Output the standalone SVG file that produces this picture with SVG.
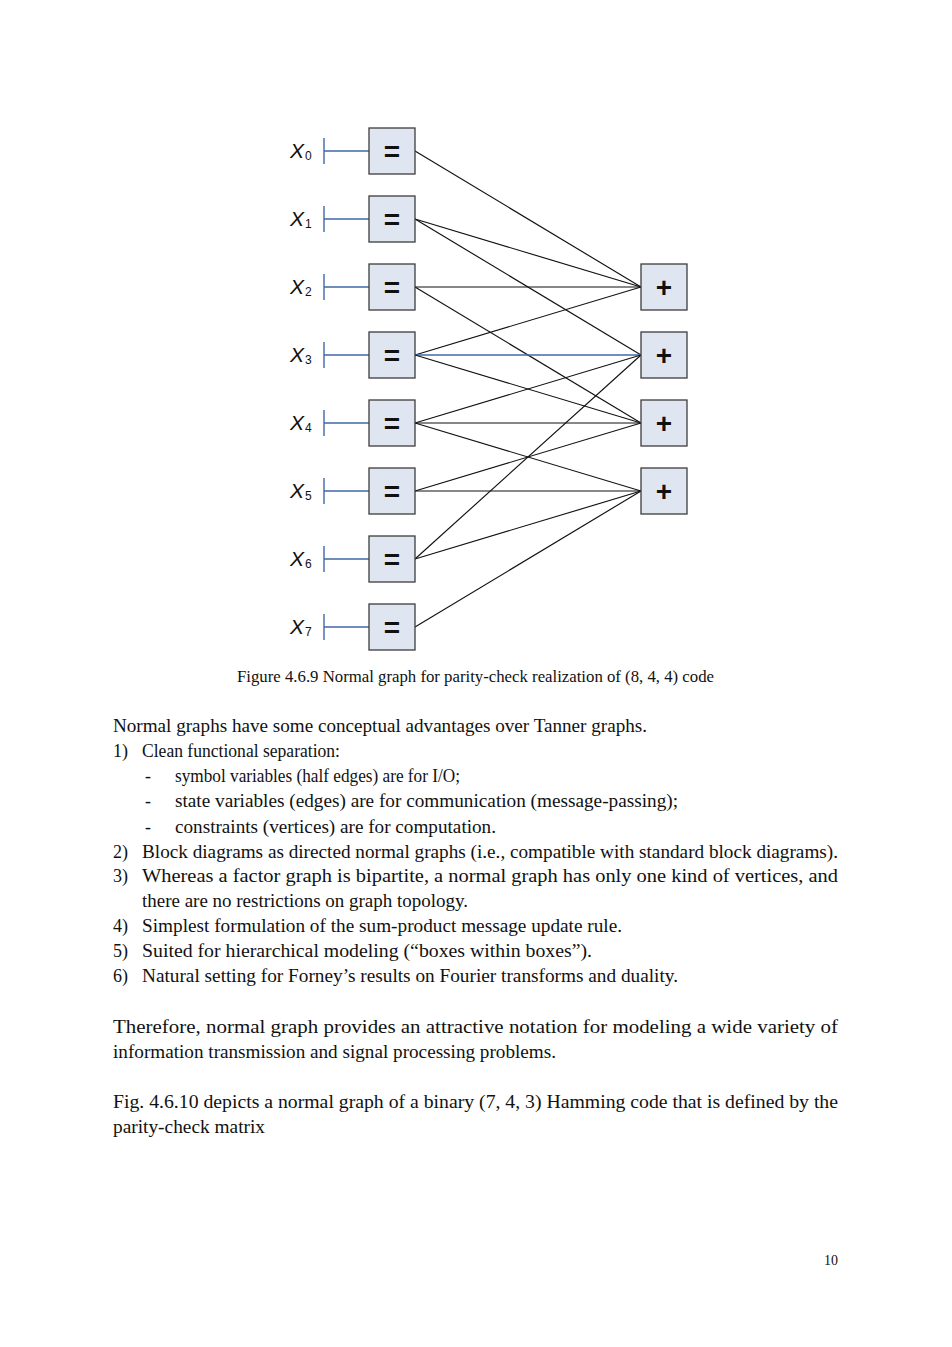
<svg xmlns="http://www.w3.org/2000/svg" width="952" height="1347" viewBox="0 0 952 1347">
<style>
.bx{fill:#dfe5f1;stroke:#3c3c3c;stroke-width:1.3}
.sym{font-family:"Liberation Sans",Arial,sans-serif;font-weight:bold;font-size:28px;text-anchor:middle;fill:#111}
.pl{font-size:28px}
.lab{font-family:"Liberation Sans",Arial,sans-serif;font-style:italic;font-size:21px;fill:#111}
.sub{font-family:"Liberation Sans",Arial,sans-serif;font-size:12px;fill:#111}
.half{stroke:#3f6aa8;stroke-width:1.4;fill:none}
.e{stroke:#111;stroke-width:1.15;fill:none}
.eb{stroke:#3f6aa8;stroke-width:1.3;fill:none}
.t{font-family:"Liberation Serif","Times New Roman",serif;font-size:18px;fill:#111}
.cap{font-family:"Liberation Serif","Times New Roman",serif;font-size:16px;fill:#111}
</style>
<rect width="952" height="1347" fill="#fff"/>
<g id="connectors">
<line class="e" x1="415" y1="151" x2="641" y2="287"/>
<line class="e" x1="415" y1="219" x2="641" y2="287"/>
<line class="e" x1="415" y1="219" x2="641" y2="355"/>
<line class="e" x1="415" y1="287" x2="641" y2="287"/>
<line class="e" x1="415" y1="287" x2="641" y2="423"/>
<line class="e" x1="415" y1="355" x2="641" y2="287"/>
<line class="eb" x1="415" y1="355" x2="641" y2="355"/>
<line class="e" x1="415" y1="355" x2="641" y2="423"/>
<line class="e" x1="415" y1="423" x2="641" y2="355"/>
<line class="e" x1="415" y1="423" x2="641" y2="423"/>
<line class="e" x1="415" y1="423" x2="641" y2="491"/>
<line class="e" x1="415" y1="491" x2="641" y2="423"/>
<line class="e" x1="415" y1="491" x2="641" y2="491"/>
<line class="e" x1="415" y1="559" x2="641" y2="355"/>
<line class="e" x1="415" y1="559" x2="641" y2="491"/>
<line class="e" x1="415" y1="627" x2="641" y2="491"/>
</g>
<g id="x0"><text class="lab" x="290" y="158">X</text><text class="sub" x="305" y="160">0</text><path class="half" d="M324 138V164M324 151H369"/><rect class="bx" x="369" y="128" width="46" height="46"/><text class="sym" x="392" y="161">=</text></g>
<g id="x1"><text class="lab" x="290" y="226">X</text><text class="sub" x="305" y="228">1</text><path class="half" d="M324 206V232M324 219H369"/><rect class="bx" x="369" y="196" width="46" height="46"/><text class="sym" x="392" y="229">=</text></g>
<g id="x2"><text class="lab" x="290" y="294">X</text><text class="sub" x="305" y="296">2</text><path class="half" d="M324 274V300M324 287H369"/><rect class="bx" x="369" y="264" width="46" height="46"/><text class="sym" x="392" y="297">=</text></g>
<g id="x3"><text class="lab" x="290" y="362">X</text><text class="sub" x="305" y="364">3</text><path class="half" d="M324 342V368M324 355H369"/><rect class="bx" x="369" y="332" width="46" height="46"/><text class="sym" x="392" y="365">=</text></g>
<g id="x4"><text class="lab" x="290" y="430">X</text><text class="sub" x="305" y="432">4</text><path class="half" d="M324 410V436M324 423H369"/><rect class="bx" x="369" y="400" width="46" height="46"/><text class="sym" x="392" y="433">=</text></g>
<g id="x5"><text class="lab" x="290" y="498">X</text><text class="sub" x="305" y="500">5</text><path class="half" d="M324 478V504M324 491H369"/><rect class="bx" x="369" y="468" width="46" height="46"/><text class="sym" x="392" y="501">=</text></g>
<g id="x6"><text class="lab" x="290" y="566">X</text><text class="sub" x="305" y="568">6</text><path class="half" d="M324 546V572M324 559H369"/><rect class="bx" x="369" y="536" width="46" height="46"/><text class="sym" x="392" y="569">=</text></g>
<g id="x7"><text class="lab" x="290" y="634">X</text><text class="sub" x="305" y="636">7</text><path class="half" d="M324 614V640M324 627H369"/><rect class="bx" x="369" y="604" width="46" height="46"/><text class="sym" x="392" y="637">=</text></g>
<g id="c0"><rect class="bx" x="641" y="264" width="46" height="46"/><text class="sym pl" x="664" y="297">+</text></g>
<g id="c1"><rect class="bx" x="641" y="332" width="46" height="46"/><text class="sym pl" x="664" y="365">+</text></g>
<g id="c2"><rect class="bx" x="641" y="400" width="46" height="46"/><text class="sym pl" x="664" y="433">+</text></g>
<g id="c3"><rect class="bx" x="641" y="468" width="46" height="46"/><text class="sym pl" x="664" y="501">+</text></g>
<text class="cap" x="237" y="682" textLength="477" lengthAdjust="spacingAndGlyphs">Figure 4.6.9 Normal graph for parity-check realization of (8, 4, 4) code</text>
<g id="body">
<text class="t" x="113" y="732" textLength="534" lengthAdjust="spacingAndGlyphs">Normal graphs have some conceptual advantages over Tanner graphs.</text>
<text class="t" x="113" y="757">1)</text>
<text class="t" x="142" y="757" textLength="198" lengthAdjust="spacingAndGlyphs">Clean functional separation:</text>
<text class="t" x="145" y="782">-</text>
<text class="t" x="175" y="782" textLength="285" lengthAdjust="spacingAndGlyphs">symbol variables (half edges) are for I/O;</text>
<text class="t" x="145" y="807">-</text>
<text class="t" x="175" y="807" textLength="503" lengthAdjust="spacingAndGlyphs">state variables (edges) are for communication (message-passing);</text>
<text class="t" x="145" y="833">-</text>
<text class="t" x="175" y="833" textLength="321" lengthAdjust="spacingAndGlyphs">constraints (vertices) are for computation.</text>
<text class="t" x="113" y="858">2)</text>
<text class="t" x="142" y="858" textLength="696" lengthAdjust="spacingAndGlyphs">Block diagrams as directed normal graphs (i.e., compatible with standard block diagrams).</text>
<text class="t" x="113" y="882">3)</text>
<text class="t" x="142" y="882" textLength="696" lengthAdjust="spacingAndGlyphs">Whereas a factor graph is bipartite, a normal graph has only one kind of vertices, and</text>
<text class="t" x="142" y="907" textLength="326" lengthAdjust="spacingAndGlyphs">there are no restrictions on graph topology.</text>
<text class="t" x="113" y="932">4)</text>
<text class="t" x="142" y="932" textLength="480" lengthAdjust="spacingAndGlyphs">Simplest formulation of the sum-product message update rule.</text>
<text class="t" x="113" y="957">5)</text>
<text class="t" x="142" y="957" textLength="450" lengthAdjust="spacingAndGlyphs">Suited for hierarchical modeling (“boxes within boxes”).</text>
<text class="t" x="113" y="982">6)</text>
<text class="t" x="142" y="982" textLength="536" lengthAdjust="spacingAndGlyphs">Natural setting for Forney’s results on Fourier transforms and duality.</text>
<text class="t" x="113" y="1033" textLength="725" lengthAdjust="spacingAndGlyphs">Therefore, normal graph provides an attractive notation for modeling a wide variety of</text>
<text class="t" x="113" y="1058" textLength="443" lengthAdjust="spacingAndGlyphs">information transmission and signal processing problems.</text>
<text class="t" x="113" y="1108" textLength="725" lengthAdjust="spacingAndGlyphs">Fig. 4.6.10 depicts a normal graph of a binary (7, 4, 3) Hamming code that is defined by the</text>
<text class="t" x="113" y="1133" textLength="152" lengthAdjust="spacingAndGlyphs">parity-check matrix</text>
<text class="cap" x="824" y="1265" style="font-size:14px">10</text>
</g>
</svg>
